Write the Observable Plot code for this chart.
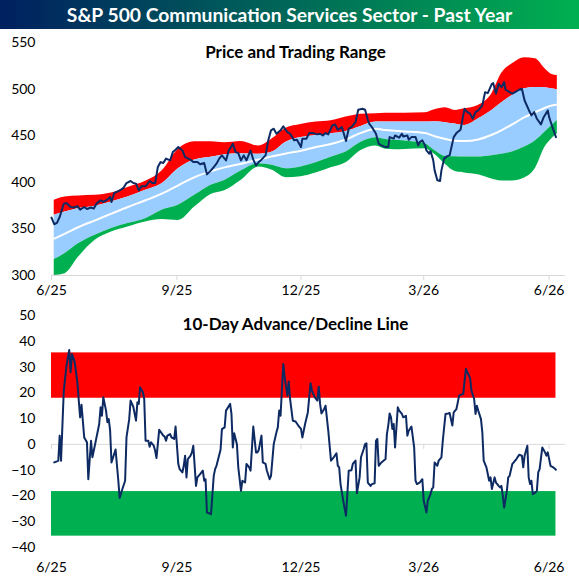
<!DOCTYPE html>
<html><head><meta charset="utf-8">
<script src="https://cdn.jsdelivr.net/npm/d3@7"></script>
<script src="https://cdn.jsdelivr.net/npm/@observablehq/plot@0.6"></script>
<style>
body{margin:0;background:#fff;font-family:Lato,"Open Sans",sans-serif;}
#title{height:29px;background:linear-gradient(to right,#002060,#00B050);color:#fff;font-weight:700;font-size:19.3px;line-height:30px;text-align:center;white-space:nowrap;}
svg{display:block;}
</style></head><body>
<div id="title">S&amp;P 500 Communication Services Sector - Past Year</div>
<div id="top"></div>
<div id="bottom"></div>
<script>
// ---- Shared axis values ----
const xTickDates = ["2025-06-01","2025-09-01","2025-12-01","2026-03-01","2026-06-01"];
const xDomainDates = ["2025-06-01","2026-06-13"];
const priceTicks = [300,350,400,450,500,550];
const adTicks = [-40,-30,-20,-10,0,10,20,30,40,50];

// ---- Trading range bands (upper 2nd band, upper 1st band, 50-DMA, lower 1st band, lower 2nd band) ----
const bandDates = ["2025-06-03","2025-06-11","2025-06-21","2025-07-03","2025-07-15","2025-07-27","2025-08-09","2025-08-21",
  "2025-09-02","2025-09-14","2025-09-26","2025-10-06","2025-10-18","2025-10-31","2025-11-10","2025-11-20",
  "2025-12-01","2025-12-12","2025-12-23","2026-01-03","2026-01-14","2026-01-25","2026-02-01","2026-02-08","2026-02-15",
  "2026-03-02","2026-03-09","2026-03-17","2026-03-24","2026-03-31","2026-04-10","2026-04-20","2026-04-27",
  "2026-05-05","2026-05-14","2026-05-22","2026-05-29","2026-06-03","2026-06-07"];
const redTop = [380.7,384.2,385.3,386,388.5,394.5,401,412,435.5,443.5,443.5,442.5,443.9,439,446.8,458,462,464.6,466,470,
  473,473.6,474,474,474.2,474.6,477.9,480,477.1,478.9,482.5,495,516.4,527.1,533.6,532.5,521.8,515.7,514.6];
const blueTop = [364.6,368,371.8,374.3,378.9,384.2,391.4,398.5,414.6,424,427,429.6,430.7,430,432.4,443,448,450.3,452,454.5,
  460,464.6,464.6,464.6,464.6,464.6,465,464,462.5,461,468,477,485,493.2,500.4,501.7,501.5,500.4,499.3];
const ma50 = [339.6,345,352,359.2,366.4,373.5,380.7,387.8,396.8,405.6,411.8,416,419.8,424.5,428,431,433.8,437.8,441,446,
  453,457.5,456,455.3,454.6,452.8,449.5,446.5,444.6,444.3,446,451,455.8,462.1,469.9,475.3,480,482.5,483.2];
const blueBot = [317.1,323.6,334.3,343.2,350.4,355.7,361,370,375.3,386,396.8,402,412,420,418.2,414.6,416.5,421,427,432.5,
  443,447.9,446,445,444.3,441.4,434.2,427.8,427.5,427.1,427.1,428.5,430,432.4,437.8,444.5,454,461,466.4];
const greenBot = [300,302,320,337.8,346.7,352,357.4,360,359,373.5,387,391,402,416.4,412.8,405,406,410,415.5,421,
  434,439,435.5,435,435.3,436,430,419,411.5,410,408,403.5,401.4,401.4,404.5,415,437.8,446.8,452.1];

// ---- Price ----
const priceDates = [
  "2025-06-01","2025-06-03","2025-06-05","2025-06-07","2025-06-10","2025-06-12","2025-06-15","2025-06-17","2025-06-20","2025-06-22","2025-06-25","2025-06-27","2025-06-30",
  "2025-07-02","2025-07-04","2025-07-07","2025-07-09","2025-07-12","2025-07-14","2025-07-15","2025-07-17","2025-07-20","2025-07-22","2025-07-24","2025-07-26","2025-07-29","2025-07-31",
  "2025-08-02","2025-08-04","2025-08-06","2025-08-09","2025-08-12","2025-08-14","2025-08-16","2025-08-18","2025-08-20","2025-08-22","2025-08-24","2025-08-27","2025-08-29","2025-08-31",
  "2025-09-02","2025-09-05","2025-09-07","2025-09-11","2025-09-13","2025-09-16","2025-09-18","2025-09-21","2025-09-23","2025-09-26","2025-09-28","2025-09-30",
  "2025-10-02","2025-10-04","2025-10-07","2025-10-09","2025-10-11","2025-10-12","2025-10-14","2025-10-16","2025-10-18","2025-10-20","2025-10-22","2025-10-25","2025-10-27","2025-10-29","2025-10-31",
  "2025-11-02","2025-11-05","2025-11-07","2025-11-09","2025-11-11","2025-11-13","2025-11-16","2025-11-18","2025-11-21","2025-11-23","2025-11-26","2025-11-28",
  "2025-12-01","2025-12-02","2025-12-05","2025-12-07","2025-12-10","2025-12-13","2025-12-15","2025-12-17","2025-12-19","2025-12-21","2025-12-24","2025-12-26","2025-12-28","2025-12-31",
  "2026-01-03","2026-01-05","2026-01-07","2026-01-10","2026-01-12","2026-01-15","2026-01-17","2026-01-19","2026-01-20","2026-01-22","2026-01-25","2026-01-27","2026-01-29",
  "2026-02-01","2026-02-03","2026-02-04","2026-02-07","2026-02-08","2026-02-11","2026-02-13","2026-02-14","2026-02-17","2026-02-18","2026-02-20","2026-02-23","2026-02-25","2026-02-26","2026-02-28",
  "2026-03-02","2026-03-03","2026-03-05","2026-03-06","2026-03-08","2026-03-09","2026-03-11","2026-03-13","2026-03-14","2026-03-16","2026-03-18","2026-03-20","2026-03-23","2026-03-25","2026-03-28","2026-03-30","2026-03-31",
  "2026-04-02","2026-04-04","2026-04-06","2026-04-08","2026-04-10","2026-04-13","2026-04-15","2026-04-17","2026-04-20","2026-04-21","2026-04-23","2026-04-25","2026-04-27","2026-04-29","2026-04-30",
  "2026-05-03","2026-05-05","2026-05-07","2026-05-10","2026-05-12","2026-05-14","2026-05-17","2026-05-19","2026-05-21","2026-05-23","2026-05-26","2026-05-28","2026-05-31",
  "2026-06-01","2026-06-03","2026-06-06"];
const priceValues = [
  362.1,355,356.4,362.8,377.1,377.8,373.5,372.9,374.3,370.7,373.5,371.4,372.9,
  371.8,377.1,380.7,378.9,381.4,384.2,378.9,388.5,390.6,392.1,394.3,399.2,401.4,399.2,
  398.6,391.4,395.7,395.7,401.4,399.2,399.2,416.4,421.7,420.7,425.4,423.5,432.4,435,
  437.8,434.2,427.1,424.3,421.7,421.7,419.3,420.7,408.5,412.8,416.4,420,
  425.4,428.9,423.5,434.2,438.5,441.4,432.4,431.4,423.5,428.9,423.5,434.2,424.3,418.2,421.7,
  424.3,428.9,445,455.7,457.5,452.1,455.7,460,453.9,452.1,445,445.7,
  437.8,446.8,446.8,452.8,452.8,451.4,452.1,450.3,452.8,451.4,461,462.1,456.4,459.2,
  444.3,457.5,459.2,464.6,477.9,478.9,477.9,467.1,462.9,459.2,452.1,441.4,439.6,
  437.8,437.8,448.5,446.8,450.3,447.9,452.1,449.2,450.3,445.7,448.5,448.5,439.6,443.2,445,
  439.6,434.2,430.7,433.5,423.5,412.8,402.1,401.4,412.8,425.4,427.8,428.9,448.5,452.8,456.4,471.8,478.9,
  475.3,473.6,468.2,475.3,477.1,482.5,496.7,495.7,505.7,506.4,495,505.7,502.1,507.5,499.3,
  496.7,495,496.7,499.3,500.4,487.8,477.9,471.8,475.3,468.2,462.1,469.9,477.1,
  469.9,461,448.5];

// ---- 10-Day Advance/Decline line ----
const adDates = [
  "2025-06-03","2025-06-05","2025-06-06","2025-06-07","2025-06-08","2025-06-10","2025-06-12","2025-06-14","2025-06-15","2025-06-16","2025-06-18","2025-06-20","2025-06-21","2025-06-22","2025-06-23","2025-06-25","2025-06-27","2025-06-28","2025-06-30",
  "2025-07-01","2025-07-03","2025-07-06","2025-07-07","2025-07-08","2025-07-09","2025-07-11","2025-07-12","2025-07-13","2025-07-14","2025-07-15","2025-07-18","2025-07-20","2025-07-21","2025-07-23","2025-07-25","2025-07-26","2025-07-28","2025-07-29","2025-07-31",
  "2025-08-02","2025-08-03","2025-08-04","2025-08-05","2025-08-07","2025-08-08","2025-08-09","2025-08-11","2025-08-12","2025-08-13","2025-08-15","2025-08-16","2025-08-17","2025-08-19","2025-08-22","2025-08-23","2025-08-24","2025-08-25","2025-08-27","2025-08-28","2025-08-30","2025-08-31",
  "2025-09-02","2025-09-03","2025-09-05","2025-09-06","2025-09-07","2025-09-08","2025-09-09","2025-09-11","2025-09-12","2025-09-13","2025-09-15","2025-09-16","2025-09-18","2025-09-20","2025-09-21","2025-09-22","2025-09-23","2025-09-25","2025-09-26","2025-09-28","2025-09-29","2025-09-30",
  "2025-10-03","2025-10-04","2025-10-06","2025-10-07","2025-10-10","2025-10-11","2025-10-12","2025-10-13","2025-10-15","2025-10-16","2025-10-18","2025-10-19","2025-10-21","2025-10-22","2025-10-24","2025-10-25","2025-10-27","2025-10-29","2025-10-30","2025-10-31",
  "2025-11-02","2025-11-03","2025-11-05","2025-11-06","2025-11-08","2025-11-09","2025-11-11","2025-11-13","2025-11-14","2025-11-15","2025-11-16","2025-11-18","2025-11-19","2025-11-21","2025-11-22","2025-11-23","2025-11-25","2025-11-27","2025-11-29",
  "2025-12-01","2025-12-02","2025-12-04","2025-12-06","2025-12-08","2025-12-09","2025-12-11","2025-12-13","2025-12-14","2025-12-15","2025-12-16","2025-12-18","2025-12-19","2025-12-21","2025-12-23","2025-12-25","2025-12-27","2025-12-28","2025-12-29","2025-12-30",
  "2026-01-01","2026-01-03","2026-01-04","2026-01-05","2026-01-07","2026-01-08","2026-01-10","2026-01-11","2026-01-13","2026-01-14","2026-01-16","2026-01-17","2026-01-18","2026-01-19","2026-01-21","2026-01-22","2026-01-24","2026-01-25","2026-01-26","2026-01-27","2026-01-29",
  "2026-02-01","2026-02-02","2026-02-03","2026-02-04","2026-02-05","2026-02-06","2026-02-07","2026-02-08","2026-02-10","2026-02-11","2026-02-13","2026-02-14","2026-02-16","2026-02-17","2026-02-18","2026-02-20","2026-02-22","2026-02-23","2026-02-24","2026-02-26","2026-02-28",
  "2026-03-01","2026-03-03","2026-03-04","2026-03-06","2026-03-07","2026-03-08","2026-03-09","2026-03-11","2026-03-12","2026-03-14","2026-03-15","2026-03-17","2026-03-19","2026-03-20","2026-03-22","2026-03-23","2026-03-25","2026-03-26","2026-03-27","2026-03-28","2026-03-30","2026-03-31",
  "2026-04-01","2026-04-02","2026-04-04","2026-04-05","2026-04-07","2026-04-08","2026-04-09","2026-04-10","2026-04-12","2026-04-13","2026-04-14","2026-04-16","2026-04-17","2026-04-18","2026-04-19","2026-04-20","2026-04-22","2026-04-23","2026-04-25","2026-04-26","2026-04-27","2026-04-28","2026-04-29",
  "2026-05-01","2026-05-02","2026-05-03","2026-05-05","2026-05-06","2026-05-08","2026-05-10","2026-05-12","2026-05-13","2026-05-14","2026-05-16","2026-05-17","2026-05-18","2026-05-19","2026-05-20","2026-05-22","2026-05-23","2026-05-24","2026-05-25","2026-05-27","2026-05-29","2026-05-30","2026-05-31",
  "2026-06-02","2026-06-04","2026-06-06"];
const adValues = [
  -7,-6.6,-6.3,3.4,-6.3,20.8,30.6,36.6,28,35.1,31.9,24.1,17,10.5,15.4,2.7,0.8,-13.5,1.4,
  -5,0.1,7.9,14.4,11.1,18.3,13.1,8.6,9.8,5.3,-7,-2,-14,-20.8,-17.3,-14.1,2.7,9.8,17,14.6,
  9.2,16.3,15.7,22.2,20.2,17.6,1.4,1.4,-0.9,0.8,-0.5,-2.4,-5.3,5.7,3.4,3,1.4,3.4,4,2.7,2.1,6.9,
  -7.6,-9.6,-10.9,-8.3,-4.4,-12.8,-5.7,-4.4,-3.1,-0.5,-16.1,-12.8,-11.5,-10.2,-14.1,-13.5,-26.4,-26.8,-27.1,-12.2,-9.6,-8.3,
  -2.1,5.9,6.6,13.1,15.7,11.8,-1.2,4.3,0.1,-8.9,-18,-14.1,-14.8,-7.6,-8.9,-10.2,6.9,-3.1,-3.1,-2.2,
  3.4,-7,-7.6,-10.2,-13.5,-12.2,0.1,4.7,6.6,13.1,11.1,31.2,26,18.9,24.4,17.6,9.2,8.9,7.3,
  6,2.7,7.9,12.4,23.7,20.9,18.3,17,22.4,15.7,12,13.7,15,5.3,-6.3,-5,-3.5,-8.3,-8.9,-15.4,
  -21.9,-27.7,-19.3,-10.2,-10,-7.6,-6.3,-19,-12.8,-5,-1.8,0.1,0.4,-14.8,-16.1,-15.4,-15.1,1.4,2.1,-8.3,-7,
  -5.7,4,7.3,12,10.5,6,7.9,-1.2,14.4,13.1,11.8,10.5,11.1,3.4,5.3,6.9,-1.2,-14.1,-15.4,-14.8,-13.5,
  -21.9,-26.4,-21.9,-19.3,-17.3,-16.7,-7,-8.3,-6.3,-5,1.4,11.8,12,12.2,7.3,12.4,13.7,16.3,18.9,19.2,19.6,24.7,
  29.3,28,25.8,20.9,17.6,11.8,15,13.1,9.8,4.7,-6.3,-8.9,-11.5,-14.1,-12.8,-17.3,-12.8,-14.8,-16.1,-16.7,-16.1,-19.9,-24.5,
  -18,-12.8,-12.2,-7.6,-7,-5.7,-4,-4.4,-8.9,-4.4,-0.5,-12.8,-15.4,-14.1,-19.3,-18.6,-18,-10.9,-9.6,-1.2,-3.1,-4.4,-3.1,
  -8.3,-8.9,-9.8];

// overbought / oversold zones of the A/D line [low, high]
const overbought = [17.9, 35.5];
const oversold = [-35.6, -18.3];

// ---- Build tables ----
const bands = bandDates.map((d, i) => ({date: new Date(d), redTop: redTop[i], blueTop: blueTop[i], ma: ma50[i], blueBot: blueBot[i], greenBot: greenBot[i]}));
const price = priceDates.map((d, i) => ({date: new Date(d), value: priceValues[i]}));
const ad = adDates.map((d, i) => ({date: new Date(d), value: adValues[i]}));
const xTicks = xTickDates.map(d => new Date(d));
const xDomain = xDomainDates.map(d => new Date(d));
const fmt = d3.utcFormat("%-m/%y");
const zoneStart = price[0].date, zoneEnd = price[price.length - 1].date;
const zones = [
  {x1: zoneStart, x2: zoneEnd, y1: overbought[0], y2: overbought[1]},
  {x1: zoneStart, x2: zoneEnd, y1: oversold[0], y2: oversold[1]}
];

const style = {fontFamily: "Lato, 'Open Sans', sans-serif", fontSize: "14px", color: "#000", background: "#fff", overflow: "visible"};
const navy = "#0d2a63";
const axisGray = "#d9d9d9";

const topChart = Plot.plot({
  width: 579, height: 271,
  marginLeft: 51, marginRight: 14, marginTop: 13, marginBottom: 25,
  style,
  x: {type: "utc", domain: xDomain},
  y: {domain: [300, 550]},
  marks: [
    Plot.areaY(bands, {x: "date", y1: "blueTop", y2: "redTop", fill: "#FF0000", curve: "monotone-x"}),
    Plot.areaY(bands, {x: "date", y1: "blueBot", y2: "blueTop", fill: "#99CCFF", curve: "monotone-x"}),
    Plot.areaY(bands, {x: "date", y1: "greenBot", y2: "blueBot", fill: "#00B050", curve: "monotone-x"}),
    Plot.lineY(bands, {x: "date", y: "ma", stroke: "#fff", strokeWidth: 2, curve: "monotone-x"}),
    Plot.lineY(price, {x: "date", y: "value", stroke: navy, strokeWidth: 2}),
    Plot.ruleY([300], {stroke: axisGray}),
    Plot.axisY({ticks: priceTicks, tickSize: 0, tickPadding: 16, fontSize: 14}),
    Plot.axisX({ticks: xTicks, tickFormat: fmt, tickSize: 5, tickPadding: 5, stroke: axisGray, fontSize: 14}),
    Plot.text(["Price and Trading Range"], {text: d => d, frameAnchor: "top", dx: -13, dy: 3, fontSize: 17, fontWeight: "bold", fill: "#000"})
  ]
});

const bottomChart = Plot.plot({
  width: 579, height: 286,
  marginLeft: 51, marginRight: 14, marginTop: 15, marginBottom: 39,
  style,
  x: {type: "utc", domain: xDomain},
  y: {domain: [-40, 50]},
  marks: [
    Plot.rect(zones.slice(0, 1), {x1: "x1", x2: "x2", y1: "y1", y2: "y2", fill: "#FF0000"}),
    Plot.rect(zones.slice(1), {x1: "x1", x2: "x2", y1: "y1", y2: "y2", fill: "#00B050"}),
    Plot.ruleY([0], {stroke: axisGray}),
    Plot.ruleX(xTicks, {x: d => d, y1: 0, y2: 0, insetBottom: -5, stroke: axisGray}),
    Plot.lineY(ad, {x: "date", y: "value", stroke: navy, strokeWidth: 2}),
    Plot.axisY({ticks: adTicks, tickSize: 0, tickPadding: 16, fontSize: 14}),
    Plot.axisX({ticks: xTicks, tickFormat: fmt, tickSize: 0, tickPadding: 15, fontSize: 14}),
    Plot.text(["10-Day Advance/Decline Line"], {text: d => d, frameAnchor: "top", dx: -13, dy: 2, fontSize: 17, fontWeight: "bold", fill: "#000"})
  ]
});

document.getElementById("top").appendChild(topChart);
document.getElementById("bottom").appendChild(bottomChart);
</script>
</body></html>
